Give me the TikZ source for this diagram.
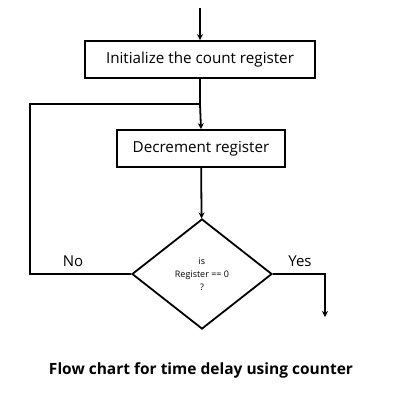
\documentclass[tikz,border=0pt]{standalone}
\usepackage{fontspec}
\setmainfont{Open Sans}
\usetikzlibrary{shapes.geometric}
\usetikzlibrary{arrows.meta}
\tikzstyle{flow}=[line width=1.8pt, -{Stealth[length=6pt,width=6pt]}]
\tikzstyle{wire}=[line width=1.8pt]
\tikzstyle{block}=[draw, line width=1.8pt, inner sep=0pt, font=\fontsize{15.2}{18}\selectfont]
\tikzstyle{pbox}=[block, rectangle]
\tikzstyle{dbox}=[block, diamond, minimum width=140pt, minimum height=110pt, font=\fontsize{9}{13}\selectfont, align=center]

\begin{document}
\begin{tikzpicture}[x=1pt, y=-1pt]
        \useasboundingbox (0, 0) rectangle (400, 400);
        \coordinate (start) at (200, 8);
        \node[pbox, minimum width=230pt, minimum height=37pt] (init) at (200, 59.5) {Initialize the count register};
        \node[pbox, minimum width=168pt, minimum height=37pt] (dec) at (201, 148.5) {Decrement register};
        \node[dbox] (test) at (202, 274) {is\\Register == 0\\?};
        \coordinate (join) at (init.south |- 0, 104);
        \coordinate (back) at (30, 104);
        \coordinate (noend) at (30, 274);
        \coordinate (yescorner) at (325, 274);
        \coordinate (yesend) at (325, 317);
        \draw[flow] (start) -- (init);
        \draw[wire] (init) -- (join);
        \draw[flow] (join) -- (dec.north);
        \draw[flow] (dec) -- (test);
        \draw[wire] (test.west) -- (noend) -- (back) -- (join);
        \draw[flow] (test.east) -- (yescorner) -- (yesend);
        \node[font=\fontsize{15}{18}\selectfont] (no) at (73, 261) {No};
        \node[font=\fontsize{15}{18}\selectfont] (yes) at (300, 261) {Yes};
        \node[font=\bfseries\fontsize{15.5}{18}\selectfont] (caption) at (201, 370) {Flow chart for time delay using counter};
    \end{tikzpicture}
\end{document}
